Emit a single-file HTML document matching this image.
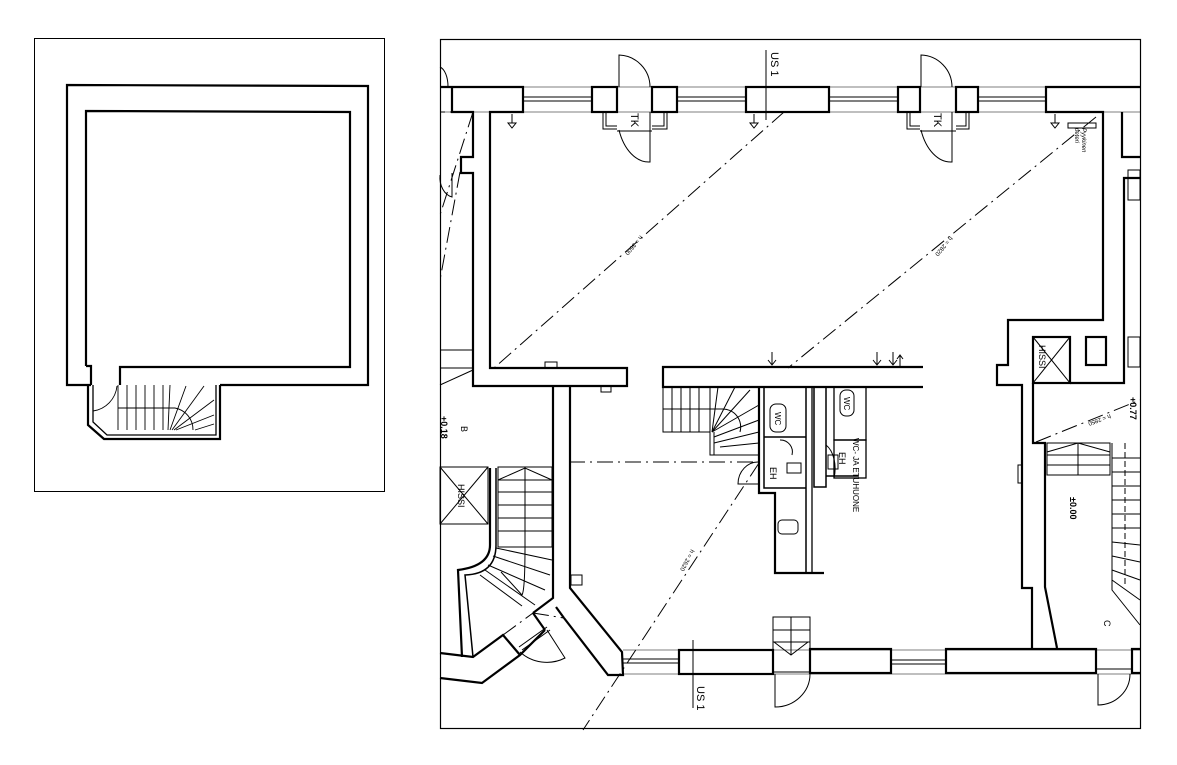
<!DOCTYPE html>
<html><head><meta charset="utf-8"><style>
html,body{margin:0;padding:0;background:#fff;}
svg{display:block;}
text{font-family:"Liberation Sans",sans-serif;fill:#000;}
</style></head><body>
<svg width="1177" height="765" viewBox="0 0 1177 765" xmlns="http://www.w3.org/2000/svg">
<rect width="1177" height="765" fill="#fff"/>
<!-- LEFT PANEL -->
<rect x="34.5" y="38.5" width="350" height="453" fill="none" stroke="#000" stroke-width="1"/>
<g fill="none" stroke="#000" stroke-width="2.2">
<polyline points="91,385 67,385 67,85 368,86 368,385 220,385"/>
<polyline points="86,366 86,111 350,112 350,367 120,367 120,385"/>
<polyline points="86,366 91,366 91,385"/>
<polyline points="88,385 88,425 104,439 220,439 220,385"/>
<polyline stroke-width="1.3" points="93,385 93,422 107,435 216,435 216,385"/>
</g>
<g fill="none" stroke="#000" stroke-width="0.9">
<path d="M93,411 A28,28 0 0 0 117,386"/>
<line x1="118" y1="385" x2="118" y2="430"/>
<line x1="118" y1="408" x2="175" y2="408"/>
<path d="M175,408 A22,22 0 0 1 193,430"/>
<line x1="127" y1="385" x2="127" y2="430"/><line x1="136" y1="385" x2="136" y2="430"/>
<line x1="145" y1="385" x2="145" y2="430"/><line x1="154" y1="385" x2="154" y2="430"/>
<line x1="163" y1="385" x2="163" y2="430"/>
<line x1="168" y1="430" x2="170" y2="385"/><line x1="170" y1="430" x2="186" y2="386"/>
<line x1="172" y1="430" x2="204" y2="386"/><line x1="174" y1="430" x2="214" y2="400"/>
<line x1="176" y1="430" x2="214" y2="415"/><line x1="195" y1="430" x2="214" y2="424"/>
</g>

<!-- RIGHT PANEL -->
<rect x="440.5" y="39.5" width="700" height="689" fill="none" stroke="#000" stroke-width="1.2"/>
<g fill="none" stroke="#000" stroke-width="2.2">
<polyline points="440,87 523,87 523,112 490,112 490,368 627,368 627,386 473,386 473,173 461,173 461,157 473,157 473,112 452,112 452,87"/>
<rect x="592" y="87" width="25" height="25"/><rect x="652" y="87" width="25" height="25"/>
<rect x="746" y="87" width="83" height="25"/>
<rect x="898" y="87" width="22" height="25"/><rect x="956" y="87" width="22" height="25"/>
<polyline points="1140,87 1046,87 1046,112 1103,112 1103,320 1008,320 1008,365 997,365 997,385 1022,385 1022,588 1032,588 1032,648"/>
<polyline points="1122,112 1122,157 1140,157"/>
<polyline points="1140,178 1124,178 1124,383 1070,383"/>
<polyline points="1033,383 1033,443 1045,443 1045,587 1057,648"/>
<polyline points="923,367 663,367 663,387 923,387"/>
<!-- left vertical wall + diagonals -->
<polyline points="553,387 553,598 533,613"/>
<polyline points="570,387 570,588 622,652 623,675 608,675 564,618"/>
<polyline points="533,613 545,630"/>
<polyline points="564,618 556,607"/>
<polyline points="545,630 520,655 482,683 440,678"/>
<polyline points="520,655 503,635 473,657 440,653"/>
<path d="M490,468 L490,545 Q490,566 458,570 L462,657"/>
<path d="M496,468 L496,545 Q496,574 465,575 L473,657" stroke-width="1.5"/>
<!-- bottom wall -->
<rect x="679" y="650" width="94" height="24"/>
<rect x="810" y="649" width="81" height="24"/>
<rect x="946" y="649" width="150" height="24"/>
<polyline points="1140,649 1132,649 1132,673 1140,673"/>
<rect x="1033" y="337" width="37" height="46"/>
<rect x="1086" y="337" width="20" height="28"/>
<!-- WC area -->
<polyline points="759,387 759,493 775,493 775,573 824,573"/>
<polyline points="764,387 764,488 806,488" stroke-width="1.5"/>
<line x1="806" y1="387" x2="806" y2="572" stroke-width="1.5"/>
<line x1="812" y1="387" x2="812" y2="572" stroke-width="1.3"/>
<rect x="814" y="387" width="12" height="100" stroke-width="1.5"/>
<line x1="826" y1="476" x2="858" y2="476" stroke-width="1.5"/>
<rect x="834" y="387" width="32" height="53" stroke-width="1.3"/>
<rect x="834" y="440" width="32" height="38" stroke-width="1.3"/>
<line x1="764" y1="437" x2="806" y2="437" stroke-width="1.5"/>
</g>
<g fill="none" stroke="#000" stroke-width="1">
<line x1="523" y1="97" x2="592" y2="97"/><line x1="523" y1="101" x2="592" y2="101"/>
<line x1="677" y1="97" x2="746" y2="97"/><line x1="677" y1="101" x2="746" y2="101"/>
<line x1="829" y1="97" x2="898" y2="97"/><line x1="829" y1="101" x2="898" y2="101"/>
<line x1="978" y1="97" x2="1046" y2="97"/><line x1="978" y1="101" x2="1046" y2="101"/>
<line x1="440" y1="87" x2="1140" y2="87" stroke-width="0.6"/>
<line x1="440" y1="112" x2="1140" y2="112" stroke-width="0.6"/>
<polyline points="603,112 603,129 617,129"/><polyline points="606,112 606,126 617,126"/>
<polyline points="667,112 667,129 652,129"/><polyline points="664,112 664,126 652,126"/>
<polyline points="907,112 907,129 920,129"/><polyline points="910,112 910,126 920,126"/>
<polyline points="969,112 969,129 956,129"/><polyline points="966,112 966,126 956,126"/>
<line x1="617" y1="131" x2="652" y2="131"/><line x1="920" y1="131" x2="956" y2="131"/>
<path d="M619,87 L619,55 A32,32 0 0 1 650,87"/>
<path d="M650,112 L650,162 A32,50 0 0 1 619,130"/>
<path d="M921,87 L921,55 A32,32 0 0 1 952,87"/>
<path d="M952,112 L952,162 A32,50 0 0 1 921,130"/>
<path d="M440,67 A10,20 0 0 1 448,87"/>
<line x1="766" y1="50" x2="766" y2="120"/>
<line x1="693" y1="640" x2="693" y2="708"/>
<line x1="623" y1="659" x2="679" y2="659"/><line x1="623" y1="663" x2="679" y2="663"/>
<line x1="891" y1="660" x2="946" y2="660"/><line x1="891" y1="664" x2="946" y2="664"/>
<line x1="623" y1="650" x2="1140" y2="650" stroke-width="0.6"/>
<line x1="623" y1="674" x2="1140" y2="674" stroke-width="0.6"/>
<line x1="1096" y1="669" x2="1132" y2="669"/>
<rect x="773" y="617" width="37" height="55"/>
<line x1="791" y1="617" x2="791" y2="655"/>
<line x1="773" y1="630" x2="810" y2="630"/><line x1="773" y1="642" x2="810" y2="642"/>
<polyline points="774,642 791,655 808,642"/>
<path d="M775,674 L775,707 A35,33 0 0 0 810,674"/>
<path d="M1098,674 L1098,705 A32,31 0 0 0 1130,674"/>
<!-- left door -->
<line x1="519" y1="647" x2="547" y2="627"/><line x1="522" y1="650" x2="550" y2="630"/>
<path d="M520,652 A40,40 0 0 0 565,658 L547,630"/>
<!-- left stairs -->
<rect x="440" y="467" width="48" height="57"/>
<line x1="440" y1="467" x2="488" y2="524"/><line x1="488" y1="467" x2="440" y2="524"/>
<rect x="498" y="467" width="54" height="80"/>
<line x1="525" y1="467" x2="525" y2="547"/>
<line x1="498" y1="480" x2="552" y2="480"/><line x1="498" y1="492" x2="552" y2="492"/>
<line x1="498" y1="505" x2="552" y2="505"/><line x1="498" y1="518" x2="552" y2="518"/>
<line x1="498" y1="531" x2="552" y2="531"/>
<polyline points="498,480 525,468 552,480"/>
<path d="M525,547 Q525,590 522,595 L501,572"/>
<line x1="496" y1="548" x2="552" y2="560"/><line x1="493" y1="556" x2="550" y2="575"/>
<line x1="488" y1="565" x2="545" y2="590"/><line x1="485" y1="570" x2="535" y2="605"/>
<line x1="480" y1="575" x2="522" y2="606"/>
<line x1="440" y1="350" x2="473" y2="350"/><line x1="440" y1="368" x2="473" y2="368"/>
<line x1="440" y1="385" x2="473" y2="370"/>
<path d="M440,175 A15,20 0 0 0 452,197 L452,173"/>
<rect x="571" y="575" width="11" height="10"/>
<rect x="663" y="387" width="47" height="45"/>
<line x1="672" y1="387" x2="672" y2="432"/><line x1="681" y1="387" x2="681" y2="432"/>
<line x1="690" y1="387" x2="690" y2="432"/><line x1="699" y1="387" x2="699" y2="432"/>
<line x1="663" y1="409" x2="722" y2="409"/>
<path d="M722,409 A18,18 0 0 1 740,432"/>
<polyline points="710,432 710,455 759,455"/>
<line x1="714" y1="432" x2="714" y2="455"/>
<line x1="712" y1="432" x2="718" y2="387"/><line x1="712" y1="432" x2="735" y2="387"/>
<line x1="712" y1="432" x2="750" y2="390"/><line x1="712" y1="432" x2="759" y2="405"/>
<line x1="714" y1="437" x2="759" y2="420"/><line x1="714" y1="443" x2="759" y2="432"/>
<line x1="720" y1="447" x2="759" y2="443"/>
<path d="M759,462 A20,22 0 0 0 738,484 L759,484"/>
<path d="M826,445 A16,26 0 0 1 834,478" />
<rect x="1047" y="443" width="63" height="32"/>
<line x1="1078" y1="443" x2="1078" y2="475"/>
<line x1="1047" y1="455" x2="1110" y2="455"/><line x1="1047" y1="465" x2="1110" y2="465"/>
<polyline points="1047,452 1078,443 1110,452"/>
<polyline points="1112,443 1112,590 1140,625"/>
<line x1="1125" y1="443" x2="1125" y2="585" stroke-dasharray="6,3"/>
<line x1="1112" y1="458" x2="1140" y2="458"/><line x1="1112" y1="472" x2="1140" y2="472"/>
<line x1="1112" y1="486" x2="1140" y2="486"/><line x1="1112" y1="500" x2="1140" y2="500"/>
<line x1="1112" y1="514" x2="1140" y2="514"/><line x1="1112" y1="528" x2="1140" y2="528"/>
<line x1="1112" y1="542" x2="1140" y2="545"/><line x1="1112" y1="556" x2="1140" y2="562"/>
<line x1="1112" y1="570" x2="1140" y2="580"/><line x1="1112" y1="580" x2="1140" y2="600"/>
<line x1="1033" y1="337" x2="1070" y2="383"/><line x1="1070" y1="337" x2="1033" y2="383"/>
<rect x="1018" y="465" width="4" height="18"/>
<rect x="1068" y="123" width="28" height="5"/>
<rect x="1128" y="337" width="12" height="30"/>
<rect x="1128" y="170" width="12" height="30"/>
<rect x="770" y="404" width="16" height="28" rx="6"/>
<rect x="840" y="390" width="14" height="26" rx="6"/>
<rect x="787" y="463" width="14" height="10"/><rect x="828" y="455" width="10" height="14"/>
<rect x="778" y="520" width="20" height="14" rx="4"/>
<path d="M780,440 A12,12 0 0 1 792,455"/>
<path d="M772,352 L772,364 M768,360 L772,365 L776,360"/>
<path d="M877,352 L877,364 M873,360 L877,365 L881,360"/>
<path d="M893,352 L893,364 M889,360 L893,365 L897,360"/>
<path d="M900,356 L900,366 M897,359 L900,355 L903,359"/>
<path d="M512,114 L512,123 M508,123 L516,123 L512,128 Z"/>
<path d="M754,114 L754,123 M750,123 L758,123 L754,128 Z"/>
<path d="M1055,114 L1055,123 M1051,123 L1059,123 L1055,128 Z"/>
<rect x="545" y="362" width="12" height="6"/>
<rect x="601" y="386" width="10" height="6"/>
</g>
<g fill="none" stroke="#000" stroke-width="1" stroke-dasharray="16,5,2,5">
<line x1="784" y1="112" x2="494" y2="368"/>
<line x1="1096" y1="117" x2="788" y2="368"/>
<line x1="569" y1="462" x2="759" y2="462"/>
<line x1="759" y1="463" x2="583" y2="730"/>
<line x1="1036" y1="442" x2="1140" y2="400"/>
<line x1="473" y1="112" x2="440" y2="215"/>
<line x1="473" y1="112" x2="440" y2="112"/>
<line x1="460" y1="172" x2="440" y2="280"/>
<line x1="533" y1="613" x2="564" y2="618"/>
<line x1="503" y1="635" x2="533" y2="613"/>
</g>
<g font-size="10">
<text transform="translate(771,52) rotate(90)" font-size="11">US 1</text>
<text transform="translate(697,686) rotate(90)" font-size="11">US 1</text>
<text transform="translate(631,113) rotate(90)" font-size="11">TK</text>
<text transform="translate(934,113) rotate(90)" font-size="11">TK</text>
<text transform="translate(640,235) rotate(130)" font-size="6">h = 3600</text>
<text transform="translate(950,236) rotate(130)" font-size="6">h = 2820</text>
<text transform="translate(691,549) rotate(118)" font-size="6">h = 2620</text>
<text transform="translate(1110,414) rotate(160)" font-size="6">h = 2850</text>
<text transform="translate(1082,128) rotate(90)" font-size="6" font-style="italic">Pyykinen</text>
<text transform="translate(1075,128) rotate(90)" font-size="6" font-style="italic">peteri</text>
<text transform="translate(1039,345) rotate(90)" font-size="9">HISSI</text>
<text transform="translate(458,484) rotate(90)" font-size="9">HISSI</text>
<text transform="translate(853,438) rotate(90)" font-size="8">WC- JA ETUHUONE</text>
<text transform="translate(775,412) rotate(90)" font-size="8">WC</text>
<text transform="translate(844,397) rotate(90)" font-size="8">WC</text>
<text transform="translate(770,467) rotate(90)" font-size="9">EH</text>
<text transform="translate(839,452) rotate(90)" font-size="9">EH</text>
<text transform="translate(1070,497) rotate(90)" font-size="9" font-weight="bold">±0.00</text>
<text transform="translate(1130,397) rotate(90)" font-size="9" font-weight="bold">+0.77</text>
<text transform="translate(441,416) rotate(90)" font-size="9" font-weight="bold">+0.18</text>
<text transform="translate(461,426) rotate(90)" font-size="9">B</text>
<text transform="translate(1104,620) rotate(90)" font-size="9">C</text>
</g>
</svg>
</body></html>
